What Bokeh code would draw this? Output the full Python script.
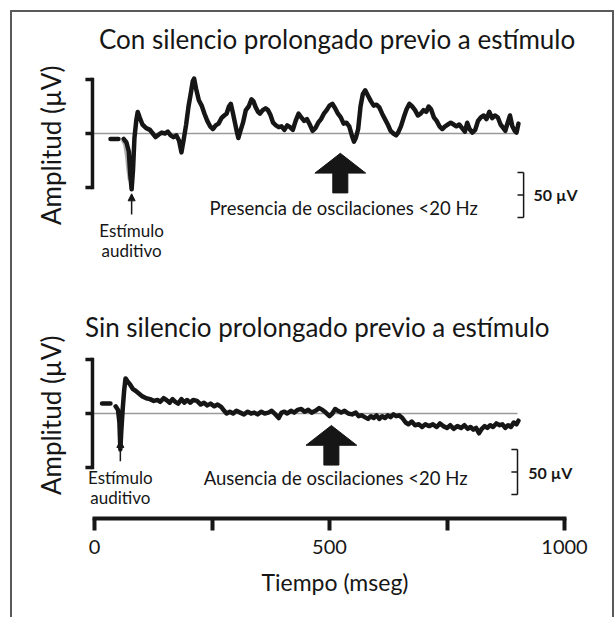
import numpy as np
from bokeh.plotting import figure
from bokeh.layouts import column, row
from bokeh.models import Range1d, FixedTicker, Label, Arrow, NormalHead, Spacer, Title
from bokeh.embed import file_html
from bokeh.resources import INLINE

nan = float("nan")

# ---------------- data (time in ms, amplitude in µV) ----------------
# Upper panel: with prolonged silence before the stimulus
TOP_T = [34, 51, nan,
         62, 68, 73, 76, 79, 82, 85, 89, 92, 96, 102, 110, 118, 124, 130, 137, 143, 150,
         156, 162, 168, 174, 180, 185, 190, 195, 200, 205, 209, 212, 216, 222, 228, 234,
         240, 246, 252, 258, 264, 270, 276, 281, 286, 290, 294, 298, 302, 306, 310, 316,
         322, 328, 334, 338, 343, 348, 352, 358, 364, 369, 374, 380, 386, 392, 398, 404,
         410, 416, 422, 428, 434, 440, 446, 452, 458, 464, 470, 476, 482, 488, 494, 500,
         506, 512, 518, 524, 530, 536, 542, 548, 552, 556, 561, 566, 571, 576, 582, 588,
         594, 600, 606, 612, 618, 624, 630, 636, 642, 646, 652, 658, 664, 670, 676, 682,
         688, 694, 700, 706, 711, 716, 722, 728, 734, 740, 746, 752, 758, 764, 770, 776,
         782, 788, 793, 798, 804, 810, 816, 822, 828, 834, 840, 846, 852, 858, 864, 870,
         874, 878, 884, 889, 894, 898, 902]
TOP_A = [-6, -6, nan,
         -6, -10, -20, -45, -62, -40, -5, 15, 24, 18, 10, 6, 4, 0, -4, -1, 1, 0,
         2, -2, -4, -2, -8, -21, -6, 10, 30, 45, 58, 61, 50, 37, 31, 22,
         14, 8, 5, 9, 11, 17, 20, 22, 30, 33, 24, 14, 4, -5, 2, 12,
         26, 30, 38, 36, 29, 24, 22, 26, 28, 26, 21, 12, 9, 7, 8, 4,
         9, 7, 4, 14, 22, 18, 14, 16, 10, 3, 6, 12, 16, 22, 26, 31,
         33, 28, 22, 18, 11, 12, 8, -3, -9, -5, 5, 30, 44, 48, 42, 36,
         31, 32, 29, 22, 16, 10, 3, 0, -2, 1, 8, 18, 27, 33, 30, 26,
         20, 22, 26, 24, 30, 27, 18, 14, 8, 5, 8, 10, 12, 10, 8, 10,
         6, 2, 12, 5, 1, 4, 14, 18, 20, 16, 24, 17, 20, 18, 10, 6,
         3, 10, 20, 8, 3, 1, 11]
# faint grey "ghost" of the stimulus artefact (upper panel)
TOP_GHOST_T = [60, 65, 69, 72, 75]
TOP_GHOST_A = [-7, -12, -25, -40, -52]

# Lower panel: without prolonged silence before the stimulus
BOT_T = [16, 34, nan,
         45, 50, 53, 55, 57, 60, 63, 66, 70, 76, 82, 88, 95, 102, 110, 118, 126, 134,
         140, 147, 153, 160, 166, 172, 178, 185, 191, 197, 204, 210, 218, 226, 233, 240,
         247, 255, 262, 270, 276, 281, 288, 295, 302, 310, 318, 326, 333, 340, 347, 355,
         362, 370, 377, 385, 392, 398, 404, 410, 418, 425, 432, 440, 447, 455, 462, 470,
         478, 485, 492, 500, 506, 512, 518, 525, 532, 540, 548, 556, 562, 568, 575, 582,
         588, 594, 600, 606, 612, 618, 624, 630, 636, 642, 648, 655, 662, 668, 675, 682,
         690, 697, 704, 712, 720, 728, 735, 742, 750, 757, 764, 772, 780, 787, 794, 800,
         806, 812, 818, 824, 830, 836, 842, 848, 855, 862, 868, 874, 880, 886, 892, 898, 902]
BOT_A = [11, 11, nan,
         8, 4, -10, -40, -20, 5, 25, 39, 36, 32, 27, 25, 22, 19, 17, 16, 14, 15,
         13, 17, 15, 12, 16, 13, 11, 16, 12, 15, 12, 15, 14, 10, 12, 9,
         11, 8, 10, 7, 3, 0, 2, 0, 3, 1, -1, 2, 0, 1, -1, 2,
         0, 1, 3, -1, -5, 1, 2, 0, 3, 1, 4, 5, 2, 4, 1, 3,
         6, 4, 1, -3, 0, 5, 3, 1, 3, 0, -1, 1, -3, -2, -4, -6,
         -3, -5, -2, -6, -3, -5, -2, -4, -1, -3, -2, -5, -10, -12, -9, -13,
         -12, -15, -12, -14, -12, -15, -11, -14, -16, -13, -17, -14, -16, -13, -17, -15,
         -18, -16, -22, -17, -14, -16, -13, -15, -11, -13, -12, -16, -13, -15, -10, -12, -8]

STIM_T_TOP = 79        # auditory stimulus marker, upper panel (ms)
STIM_T_BOT = 55        # auditory stimulus marker, lower panel (ms)
TIME_TICKS = [0, 250, 500, 750, 1000]
TIME_TICK_LABELS = {0: "0", 250: "", 500: "500", 750: "", 1000: "1000"}
TIME_LABEL = "Tiempo (mseg)"
AMP_BRACKET = [-60, 0, 60]   # µV marks on the amplitude bracket
SCALE_BAR_UV = 50            # µV calibration bar

# ---------------- geometry (page pixels) ----------------
PX_PER_MS = 0.47
PX_PER_UV = 0.9
T0_PX = 94                    # x of t = 0
FIG_X, FIG_Y = 12, 12         # figure origin inside the grey frame
FIG_W, FIG_H = 600, 605
FRAME_L, FRAME_R = 20, 600
FRAME_T, FRAME_B = 12, 518
BASE_TOP_PX, BASE_BOT_PX = 133, 413

x_range = Range1d((FRAME_L - T0_PX) / PX_PER_MS, (FRAME_R - T0_PX) / PX_PER_MS)
top_range = Range1d(-(FRAME_B - BASE_TOP_PX) / PX_PER_UV, (BASE_TOP_PX - FRAME_T) / PX_PER_UV)
bot_range = Range1d(-(FRAME_B - BASE_BOT_PX) / PX_PER_UV, (BASE_BOT_PX - FRAME_T) / PX_PER_UV)

INK = "#161616"
GREY = "#5a5a5a"
FONT = "Lato"

p = figure(width=FIG_W, height=FIG_H, output_backend="svg", toolbar_location=None,
           x_range=x_range, y_range=top_range, y_axis_location=None,
           min_border_left=FRAME_L - FIG_X, min_border_right=FIG_X + FIG_W - FRAME_R,
           min_border_top=FRAME_T - FIG_Y, min_border_bottom=FIG_Y + FIG_H - FRAME_B)
p.extra_y_ranges = {"bot": bot_range}
p.grid.visible = False
p.outline_line_color = None

# ---------------- time axis ----------------
ax = p.xaxis[0]
ax.ticker = FixedTicker(ticks=TIME_TICKS)
ax.major_label_overrides = TIME_TICK_LABELS
ax.bounds = (TIME_TICKS[0], TIME_TICKS[-1])
ax.axis_line_width = 4
ax.axis_line_color = INK
ax.axis_line_cap = "square"
ax.major_tick_line_width = 4
ax.major_tick_line_color = INK
ax.major_tick_out = 12
ax.major_tick_in = 0
ax.minor_tick_line_color = None
ax.major_label_text_font = FONT
ax.major_label_text_font_size = "20px"
ax.major_label_text_color = INK
ax.major_label_standoff = 9
# axis title, placed under the 0–1000 ms rule (left edge of text at page x ≈ 261)
p.add_layout(Title(text=TIME_LABEL, align="left", offset=261 - FRAME_L,
                   text_font=FONT, text_font_size="23px", text_font_style="normal",
                   text_color=INK, standoff=19), "below")


def panel(rn, ts, amps, stim_t, title, title_t, title_a, ylab_a, note, note_t, note_a,
          arrow_t, arrow_tip, stim_lab_a, scale_t, scale_top, scale_lab_t, ghost=None):
    br_t = -4.3
    tick_len = 15
    # baseline
    p.segment(x0=[br_t], y0=[0], x1=[900], y1=[0], line_color="#9a9a9a", line_width=1.6,
              y_range_name=rn)
    # amplitude bracket
    p.segment(x0=[br_t], y0=[AMP_BRACKET[0]], x1=[br_t], y1=[AMP_BRACKET[-1]],
              line_color=INK, line_width=3.5, line_cap="square", y_range_name=rn)
    p.segment(x0=[br_t - tick_len] * len(AMP_BRACKET), y0=AMP_BRACKET,
              x1=[br_t] * len(AMP_BRACKET), y1=AMP_BRACKET,
              line_color=INK, line_width=3.5, y_range_name=rn)
    if ghost is not None:
        p.line(ghost[0], ghost[1], line_color="#9b9b9b", line_width=4, line_alpha=0.8,
               y_range_name=rn)
    # trace
    p.line(ts, amps, line_color=INK, line_width=4.5, line_join="round", line_cap="round",
           y_range_name=rn)
    # stimulus arrow
    p.add_layout(Arrow(end=NormalHead(size=7, fill_color=INK, line_color=INK),
                       x_start=stim_t, y_start=stim_lab_a + 18, x_end=stim_t, y_end=stim_lab_a + 41,
                       line_width=1.5, line_color=INK, y_range_name=rn))
    for i, txt in enumerate(["Estímulo", "auditivo"]):
        p.add_layout(Label(x=stim_t, y=stim_lab_a - i * 22, text=txt, text_font=FONT,
                           text_font_size="17px", text_align="center", text_baseline="middle",
                           text_color=INK, y_range_name=rn))
    # big arrow
    hw, sw = 54, 16
    base, bottom = arrow_tip - 22, arrow_tip - 44
    xs = [arrow_t, arrow_t + hw, arrow_t + sw, arrow_t + sw, arrow_t - sw, arrow_t - sw, arrow_t - hw]
    ys = [arrow_tip, base, base, bottom, bottom, base, base]
    p.patch(xs, ys, color=INK, y_range_name=rn)
    # calibration bar
    sb = [scale_top, scale_top - SCALE_BAR_UV / 2, scale_top - SCALE_BAR_UV]
    p.segment(x0=[scale_t], y0=[sb[0]], x1=[scale_t], y1=[sb[-1]], line_color=INK,
              line_width=1.5, y_range_name=rn)
    p.segment(x0=[scale_t - 13] * 3, y0=sb, x1=[scale_t] * 3, y1=sb, line_color=INK,
              line_width=1.5, y_range_name=rn)
    p.add_layout(Label(x=scale_lab_t, y=sb[1], text=f"{SCALE_BAR_UV} µV", text_font=FONT,
                       text_font_size="16px", text_font_style="bold", text_align="left",
                       text_baseline="middle", text_color=INK, y_range_name=rn))
    # texts
    p.add_layout(Label(x=title_t, y=title_a, text=title, text_font=FONT, text_font_size="26px",
                       text_align="center", text_baseline="middle", text_color=INK,
                       y_range_name=rn))
    p.add_layout(Label(x=-91.5, y=ylab_a, text="Amplitud (µV)", text_font=FONT,
                       text_font_size="26px", angle=np.pi / 2, text_align="center",
                       text_baseline="middle", text_color=INK, y_range_name=rn))
    p.add_layout(Label(x=note_t, y=note_a, text=note, text_font=FONT, text_font_size="18.5px",
                       text_align="center", text_baseline="middle", text_color=INK,
                       y_range_name=rn))


panel("default", TOP_T, TOP_A, STIM_T_TOP, "Con silencio prolongado previo a estímulo",
      516, 105, -13, "Presencia de oscilaciones <20 Hz", 530, -83,
      523, -22, -108, 913, -43.3, 934, ghost=(TOP_GHOST_T, TOP_GHOST_A))
panel("bot", BOT_T, BOT_A, STIM_T_BOT, "Sin silencio prolongado previo a estímulo",
      474, 96.5, -2, "Ausencia de oscilaciones <20 Hz", 513, -72,
      504, -13.3, -71, 900, -40, 923)

# ---------------- grey picture frame (open at the bottom) ----------------
grey = {"background-color": GREY}
frame_top = Spacer(width=FIG_W + 4, height=2, styles=grey)
side_l = Spacer(width=2, height=FIG_H, styles=grey)
side_r = Spacer(width=2, height=FIG_H, styles=grey)
inner = column(frame_top, row(side_l, p, side_r, spacing=0), spacing=0)
layout = column(Spacer(width=FIG_W + 14, height=FIG_Y - 2),
                row(Spacer(width=FIG_X - 2, height=FIG_H + 2), inner, spacing=0),
                spacing=0)

open("out.html", "w").write(file_html(layout, INLINE))
